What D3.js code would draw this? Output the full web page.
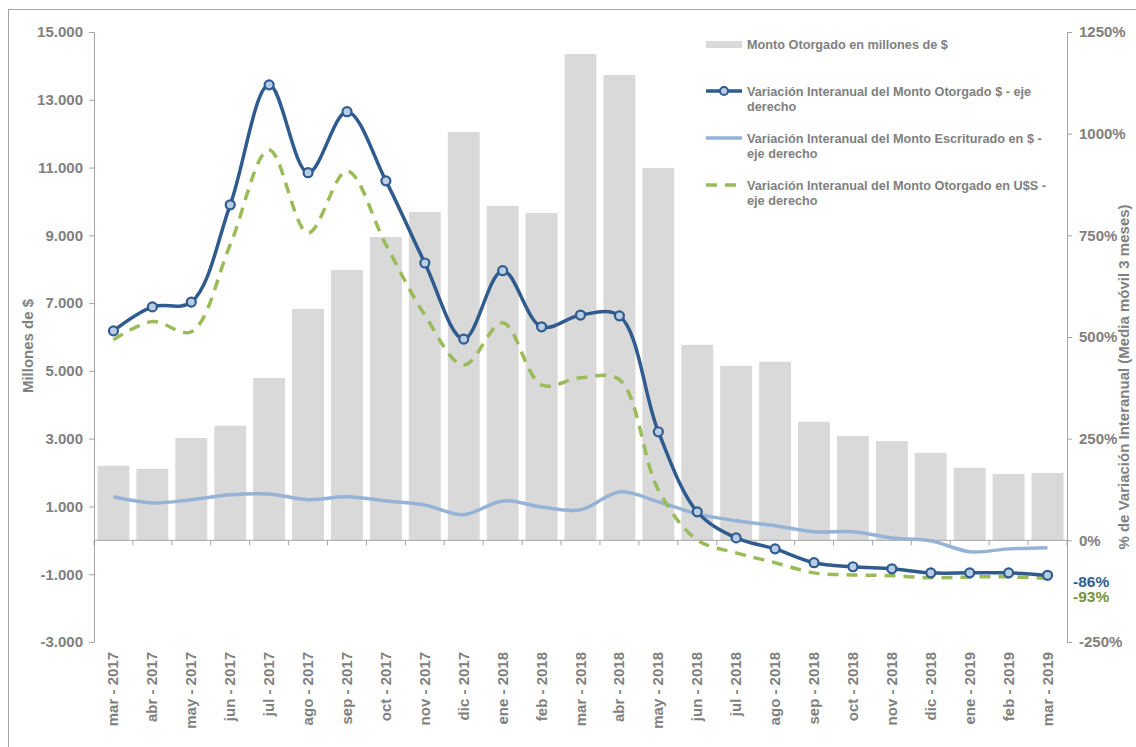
<!DOCTYPE html>
<html>
<head>
<meta charset="utf-8">
<script src="https://cdn.jsdelivr.net/npm/d3@7"></script>
<style>
  body { margin: 0; background: #fff; }
  svg { font-family: "Liberation Sans", Arial, sans-serif; }
</style>
</head>
<body>
<script>
// meses (mar 2017 - mar 2019)
const meses = ["mar - 2017", "abr - 2017", "may - 2017", "jun - 2017", "jul - 2017", "ago - 2017",
  "sep - 2017", "oct - 2017", "nov - 2017", "dic - 2017", "ene - 2018", "feb - 2018", "mar - 2018",
  "abr - 2018", "may - 2018", "jun - 2018", "jul - 2018", "ago - 2018", "sep - 2018", "oct - 2018",
  "nov - 2018", "dic - 2018", "ene - 2019", "feb - 2019", "mar - 2019"];

// barras, millones de $ (eje izquierdo)
const montoOtorgado = [2200, 2110, 3020, 3380, 4790, 6830, 7980, 8950, 9690, 12050, 9870, 9660, 14350,
  13730, 10990, 5770, 5150, 5270, 3500, 3080, 2930, 2580, 2140, 1960, 1990];

// % variacion interanual (eje derecho)
const varOtorgado = [515, 574, 586, 825, 1120, 904, 1054, 884, 682, 495, 663, 525, 554, 552, 267, 70,
  6, -21, -55, -65, -70, -80, -80, -80, -86];
const varEscriturado = [107, 92, 100, 112, 114, 100, 107, 97, 87, 63, 97, 82, 75, 119, 95, 65, 48, 36,
  21, 21, 6, -1, -28, -21, -18];
const varOtorgadoUSS = [493, 538, 513, 727, 960, 756, 908, 727, 554, 431, 535, 382, 400, 395, 124, 1,
  -31, -55, -80, -85, -87, -92, -90, -90, -93];

const leftTicks = [-3000, -1000, 1000, 3000, 5000, 7000, 9000, 11000, 13000, 15000];
const rightTicks = [-250, 0, 250, 500, 750, 1000, 1250];

const W = 1136, H = 747;
const gris = "#808080", ejeCol = "#a6a6a6";
const azul = "#2f5b8f", celeste = "#95b3d7", verde = "#9bbb59", barCol = "#d9d9d9";

const svg = d3.select("body").append("svg").attr("width", W).attr("height", H);

// marco exterior
svg.append("rect").attr("x", 8.5).attr("y", 9.5).attr("width", 1140).attr("height", 740)
  .attr("fill", "none").attr("stroke", "#a6a6a6");

const x = d3.scaleBand().domain(meses).range([94, 1067]).paddingInner(0.18).paddingOuter(0.09);
const yL = d3.scaleLinear().domain([-3000, 15000]).range([642, 32]);
const yR = d3.scaleLinear().domain([-250, 1250]).range([642, 32]);
const cx = d => x(d) + x.bandwidth() / 2;

const loc = d3.formatLocale({ decimal: ",", thousands: ".", grouping: [3], currency: ["$", ""], minus: "-" });
const fmt = loc.format(",.0f");

// barras
svg.append("g").selectAll("rect").data(meses).join("rect")
  .attr("x", d => x(d)).attr("width", x.bandwidth())
  .attr("y", (d, i) => Math.min(yL(montoOtorgado[i]), yL(0)))
  .attr("height", (d, i) => Math.abs(yL(0) - yL(montoOtorgado[i])))
  .attr("fill", barCol);

// eje izquierdo
const axL = svg.append("g").attr("transform", "translate(94,0)")
  .call(d3.axisLeft(yL).tickValues(leftTicks).tickFormat(fmt).tickSize(5).tickPadding(6));
// eje derecho
const axR = svg.append("g").attr("transform", "translate(1067,0)")
  .call(d3.axisRight(yR).tickValues(rightTicks).tickFormat(d => d + "%").tickSize(5).tickPadding(7));
[axL, axR].forEach(a => {
  a.select(".domain").attr("stroke", ejeCol);
  a.selectAll(".tick line").attr("stroke", ejeCol);
  a.selectAll("text").attr("fill", gris).attr("font-size", 15).attr("font-weight", "bold")
    .attr("font-family", "Liberation Sans, Arial, sans-serif");
});

// eje horizontal en cero, con marcas entre categorias
const x0 = yL(0);
svg.append("line").attr("x1", 94).attr("x2", 1067).attr("y1", x0).attr("y2", x0).attr("stroke", ejeCol);
const step = x.step();
svg.append("g").selectAll("line").data(d3.range(meses.length + 1)).join("line")
  .attr("x1", i => 94 + i * step).attr("x2", i => 94 + i * step)
  .attr("y1", x0).attr("y2", x0 + 5).attr("stroke", ejeCol);

// etiquetas de categorias
svg.append("g").selectAll("text").data(meses).join("text")
  .attr("transform", d => `translate(${cx(d) + 5},652) rotate(-90)`)
  .attr("text-anchor", "end").attr("fill", gris).attr("font-size", 15).attr("font-weight", "bold")
  .text(d => d);

// titulos de ejes
svg.append("text").attr("transform", "translate(33,346) rotate(-90)").attr("text-anchor", "middle")
  .attr("fill", gris).attr("font-size", 15).attr("font-weight", "bold").text("Millones de $");
svg.append("text").attr("transform", "translate(1129,377) rotate(-90)").attr("text-anchor", "middle")
  .attr("fill", gris).attr("font-size", 15).attr("font-weight", "bold")
  .text("% de Variación Interanual (Media móvil 3 meses)");

// lineas
const linea = vals => d3.line().x((d, i) => cx(meses[i])).y(d => yR(d)).curve(d3.curveCatmullRom.alpha(0.5))(vals);

svg.append("path").attr("d", linea(varEscriturado)).attr("fill", "none")
  .attr("stroke", celeste).attr("stroke-width", 3.5);
svg.append("path").attr("d", linea(varOtorgadoUSS)).attr("fill", "none")
  .attr("stroke", verde).attr("stroke-width", 3.5).attr("stroke-dasharray", "11,8");
svg.append("path").attr("d", linea(varOtorgado)).attr("fill", "none")
  .attr("stroke", azul).attr("stroke-width", 3.5);
svg.append("g").selectAll("circle").data(varOtorgado).join("circle")
  .attr("cx", (d, i) => cx(meses[i])).attr("cy", d => yR(d)).attr("r", 4.5)
  .attr("fill", "#b9cde5").attr("stroke", azul).attr("stroke-width", 2.2);

// etiquetas finales
svg.append("text").attr("x", 1073).attr("y", 587).attr("fill", azul).attr("font-size", 15.5)
  .attr("font-weight", "bold").text(varOtorgado[varOtorgado.length - 1] + "%");
svg.append("text").attr("x", 1073).attr("y", 602).attr("fill", "#77933c").attr("font-size", 15.5)
  .attr("font-weight", "bold").text(varOtorgadoUSS[varOtorgadoUSS.length - 1] + "%");

// leyenda
const ley = svg.append("g").attr("font-size", 12.7).attr("font-weight", "bold").attr("fill", gris);
ley.append("rect").attr("x", 706).attr("y", 41).attr("width", 36).attr("height", 7).attr("fill", barCol);
ley.append("text").attr("x", 747).attr("y", 49).text("Monto Otorgado en millones de $");

ley.append("line").attr("x1", 706).attr("x2", 742).attr("y1", 91).attr("y2", 91)
  .attr("stroke", azul).attr("stroke-width", 3.5);
ley.append("circle").attr("cx", 724).attr("cy", 91).attr("r", 4)
  .attr("fill", "#b9cde5").attr("stroke", azul).attr("stroke-width", 2);
ley.append("text").attr("x", 747).attr("y", 96).text("Variación Interanual del Monto Otorgado $ - eje");
ley.append("text").attr("x", 747).attr("y", 111).text("derecho");

ley.append("line").attr("x1", 706).attr("x2", 742).attr("y1", 138).attr("y2", 138)
  .attr("stroke", celeste).attr("stroke-width", 3.5);
ley.append("text").attr("x", 747).attr("y", 143).text("Variación Interanual del Monto Escriturado en $ -");
ley.append("text").attr("x", 747).attr("y", 158).text("eje derecho");

ley.append("line").attr("x1", 706).attr("x2", 742).attr("y1", 185).attr("y2", 185)
  .attr("stroke", verde).attr("stroke-width", 3.5).attr("stroke-dasharray", "11,8");
ley.append("text").attr("x", 747).attr("y", 190).text("Variación Interanual del Monto Otorgado en U$S -");
ley.append("text").attr("x", 747).attr("y", 205).text("eje derecho");
</script>
</body>
</html>
